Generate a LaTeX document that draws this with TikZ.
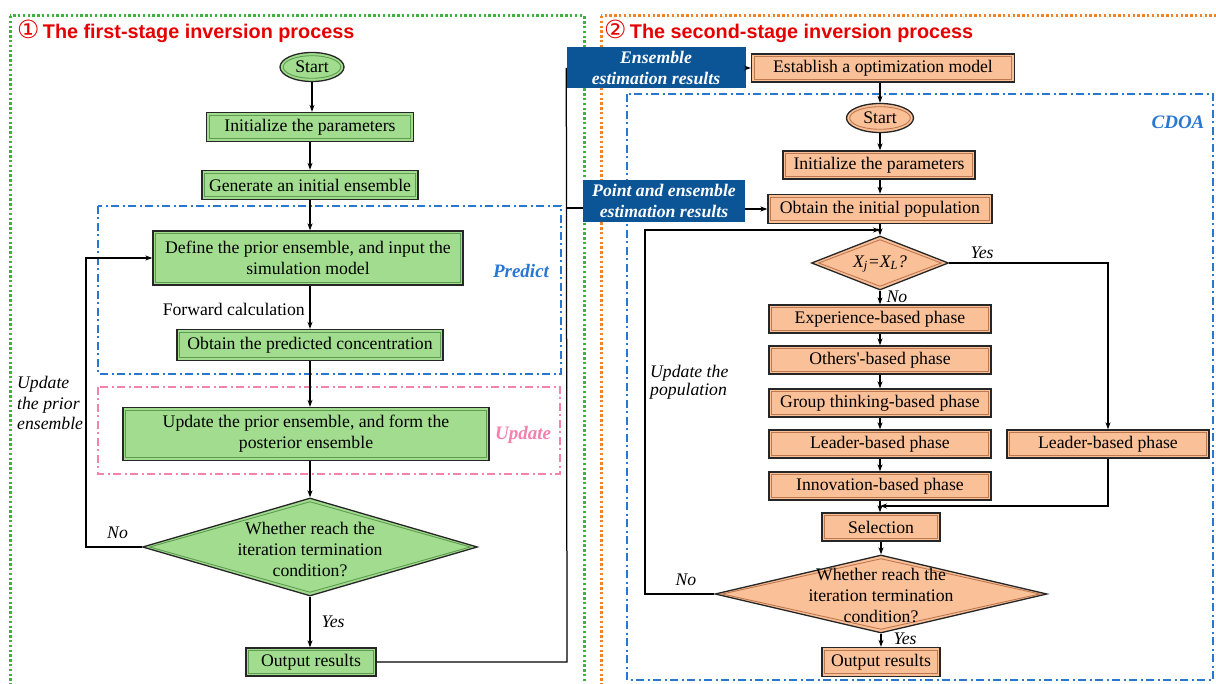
\documentclass[tikz,border=0pt]{standalone}
\usepackage{fontspec}
\setmainfont{Liberation Serif}
\newfontfamily\titlefont{Liberation Sans}
\newfontfamily\symfont{DejaVu Sans}
\usetikzlibrary{shapes.geometric,arrows.meta,calc}

\definecolor{gfill}{RGB}{162,221,143}
\definecolor{gline}{RGB}{95,155,80}
\definecolor{ofill}{RGB}{250,192,152}
\definecolor{oline}{RGB}{190,120,80}
\definecolor{lblue}{RGB}{11,84,150}
\definecolor{dblue}{RGB}{40,120,210}
\definecolor{pinkc}{RGB}{245,130,170}
\definecolor{dgreen}{RGB}{60,180,60}
\definecolor{dorange}{RGB}{240,130,40}
\definecolor{tred}{RGB}{230,0,0}

\newcommand{\sq}{{\addfontfeature{Ligatures=TeXOff}'}}

\tikzset{
  base/.style={font=\fontsize{17.7}{21}\selectfont, inner sep=0pt, align=center},
  bevel/.style={path picture={\draw[#1, line width=0.9pt]
      ([shift={(2.7pt,2.7pt)}]path picture bounding box.south west) rectangle
      ([shift={(-2.7pt,-2.7pt)}]path picture bounding box.north east);}},
  ebevel/.style={path picture={\draw[#1, line width=0.9pt]
      let \p1=(path picture bounding box.north east), \p2=(path picture bounding box.center)
      in (\p2) ellipse [x radius=\x1-\x2-3.2pt, y radius=\y1-\y2-3.2pt];}},
  dbevel/.style={path picture={\draw[#1, line width=0.9pt]
      ([yshift=-3.5pt]path picture bounding box.north) --
      ([xshift=-7pt]path picture bounding box.east) --
      ([yshift=3.5pt]path picture bounding box.south) --
      ([xshift=7pt]path picture bounding box.west) -- cycle;}},
  gbox/.style={base, draw=black!85, line width=1.3pt, fill=gfill, bevel=gline, minimum height=29pt},
  obox/.style={base, draw=black!85, line width=1.3pt, fill=ofill, bevel=oline, minimum height=28pt},
  gell/.style={base, ellipse, draw=black!85, line width=1.3pt, fill=gfill, ebevel=gline, minimum width=64pt, minimum height=29pt},
  oell/.style={base, ellipse, draw=black!85, line width=1.3pt, fill=ofill, ebevel=oline, minimum width=67pt, minimum height=29pt},
  gdia/.style={diamond, draw=black!85, line width=1.3pt, fill=gfill, inner sep=0pt, dbevel=gline},
  odia/.style={diamond, draw=black!85, line width=1.3pt, fill=ofill, inner sep=0pt, dbevel=oline},
  lbox/.style={base, fill=lblue, text=white, font=\fontsize{17.7}{21}\selectfont\bfseries\itshape, minimum height=41pt},
  ilab/.style={font=\fontsize{17.7}{20.5}\selectfont\itshape, inner sep=0pt, align=left},
  plab/.style={font=\fontsize{19}{22}\selectfont\bfseries\itshape, inner sep=0pt},
  ttl/.style={anchor=west, text=tred, inner sep=0pt, font=\fontsize{19.8}{22}\selectfont},
  dotfr/.style={line width=3pt, dash pattern=on 2.4pt off 2.4pt},
  ddot/.style={line width=1.4pt, dash pattern=on 8pt off 3.5pt on 2pt off 3.5pt},
  arr/.style={-{Stealth[length=7pt,width=5pt]}, black, line width=1.25pt},
  ln/.style={black, line width=1.25pt}
}

\begin{document}
\begin{tikzpicture}[x=1pt,y=-1pt]
\useasboundingbox (0,0) rectangle (1216,684);
\fill[white] (0,0) rectangle (1216,684);
\begin{scope}
  \clip (0,0) rectangle (1216,684);
  \draw[dgreen, dotfr] (10,16) rectangle (584,700);
  \draw[dorange, dotfr] (601,16) rectangle (1240,700);
\end{scope}

% titles
\node[ttl] (t1) at (17,31) {{\symfont\fontsize{25}{25}\selectfont ①}\,{\titlefont\bfseries The first-stage inversion process}};
\node[ttl] (t2) at (604,31) {{\symfont\fontsize{25}{25}\selectfont ②}\,{\titlefont\bfseries The second-stage inversion process}};

% dash-dot frames
\draw[dblue, ddot] (98,206) rectangle (561,374);
\draw[pinkc, ddot] (98,387) rectangle (560,474);
\draw[dblue, ddot] (627,94) rectangle (1213,680);

% ---------- left flow ----------
\node[gell] (st1) at (312,67) {Start};
\node[gbox, minimum width=207pt] (init1) at (310,127) {Initialize the parameters};
\node[gbox, minimum width=216pt] (gen1) at (310,185) {Generate an initial ensemble};
\node[gbox, minimum width=310pt, minimum height=54pt] (def1) at (308,258) {Define the prior ensemble, and input the\\simulation model};
\node[base, anchor=east] (fwd) at (305,309) {Forward calculation};
\node[gbox, minimum width=266pt, minimum height=31pt] (pre1) at (310,345) {Obtain the predicted concentration};
\node[gbox, minimum width=366pt, minimum height=53pt] (upd1) at (306,434) {Update the prior ensemble, and form the\\posterior ensemble};
\node[gdia, minimum width=335pt, minimum height=98pt] (d1) at (310,547) {};
\node[base] (d1t) at (310,549) {Whether reach the\\iteration termination\\condition?};
\node[gbox, minimum width=130pt, minimum height=28pt] (out1) at (311,662) {Output results};

\node[plab, text=dblue] (predl) at (521,271) {Predict};
\node[plab, text=pinkc] (updlab) at (523,435) {Update};

\node[ilab, anchor=west] (no1) at (107,533) {No};
\node[ilab] (yes1) at (333,622) {Yes};
\node[ilab, anchor=west] (updl) at (17,403) {Update\\the prior\\ensemble};

\draw[arr] (st1.south) -- (st1.south |- init1.north);
\draw[arr] (init1.south) -- (init1.south |- gen1.north);
\draw[arr] (gen1.south) -- (gen1.south |- def1.north);
\draw[arr] (pre1.north |- def1.south) -- (pre1.north);
\draw[arr] (pre1.south) -- (pre1.south |- upd1.north);
\draw[arr] (d1.north |- upd1.south) -- (d1.north);
\draw[arr] (d1.south) -- (d1.south |- out1.north);
\coordinate (lp1) at (86,547);
\draw[arr] (d1.west) -- (lp1) |- (def1.west);

% ---------- blue labels ----------
\node[lbox, minimum width=179pt] (ens1) at (656,68) {Ensemble\\estimation results};
\node[lbox, minimum width=162pt, minimum height=42pt] (pt1) at (664,201) {Point and ensemble\\estimation results};
\coordinate (j1) at (567,662);
\coordinate (j3) at (567,208);
\draw[ln] (out1.east) -- (j1) -- (ens1.west);
\draw[ln] (j3) -- (j3 -| pt1.west);

% ---------- right flow ----------
\node[obox, minimum width=263pt] (est) at (883,68) {Establish a optimization model};
\node[oell] (st2) at (880,118) {Start};
\node[obox, minimum width=192pt] (init2) at (879,165) {Initialize the parameters};
\node[obox, minimum width=224pt, minimum height=29pt] (obt2) at (880,209) {Obtain the initial population};
\node[odia, minimum width=137pt, minimum height=54pt] (d2) at (880,263) {};
\node[base] (d2t) at (880,264) {\itshape X\textsubscript{j}=X\textsubscript{L}?};
\node[obox, minimum width=222pt] (exp) at (880,319) {Experience-based phase};
\node[obox, minimum width=222pt] (oth) at (880,360) {Others\sq-based phase};
\node[obox, minimum width=222pt] (grp) at (880,403) {Group thinking-based phase};
\node[obox, minimum width=222pt] (ldr) at (880,444) {Leader-based phase};
\node[obox, minimum width=222pt] (inn) at (880,486) {Innovation-based phase};
\node[obox, minimum width=202pt] (ldr2) at (1108,444) {Leader-based phase};
\node[obox, minimum width=118pt] (sel) at (881,527) {Selection};
\node[odia, minimum width=332pt, minimum height=78pt] (d3) at (881,594) {};
\node[base] (d3t) at (881,595) {Whether reach the\\iteration termination\\condition?};
\node[obox, minimum width=118pt, minimum height=29pt] (out2) at (881,662) {Output results};

\node[plab, text=dblue] (cdoa) at (1178,122) {CDOA};
\node[ilab] (yes2) at (982,253) {Yes};
\node[ilab] (no2) at (897,297) {No};
\node[ilab] (yes3) at (905,639) {Yes};
\node[ilab] (no3) at (686,580) {No};
\node[ilab, anchor=west, font=\fontsize{17.7}{17.5}\selectfont\itshape] (updp) at (650,382) {Update the\\population};

\draw[arr] (ens1.east) -- (est.west);
\draw[arr] (st2.north |- est.south) -- (st2.north);
\draw[arr] (st2.south) -- (st2.south |- init2.north);
\draw[arr] (obt2.north |- init2.south) -- (obt2.north);
\draw[arr] (pt1.east |- obt2.west) -- (obt2.west);
\draw[arr] (obt2.south) -- (d2.north);
\draw[arr] (d2.south) -- (exp.north);
\draw[arr] (exp.south) -- (oth.north);
\draw[arr] (oth.south) -- (grp.north);
\draw[arr] (grp.south) -- (ldr.north);
\draw[arr] (ldr.south) -- (inn.north);
\draw[arr] (inn.south) -- (inn.south |- sel.north);
\draw[arr] (sel.south) -- (sel.south |- d3.north);
\draw[arr] (d3.south) -- (out2.north);
\coordinate (yr) at (1108,263);
\draw[arr] (d2.east) -- (yr) -- (ldr2.north);
\coordinate (lr) at (1108,506);
\draw[arr] (ldr2.south) -- (lr) -- (lr -| inn.south);
\coordinate (l2a) at (645,594);
\coordinate (l2b) at (645,230);
\draw[arr] (d3.west) -- (l2a) -- (l2b) -- (l2b -| d2.north);
\end{tikzpicture}
\end{document}
